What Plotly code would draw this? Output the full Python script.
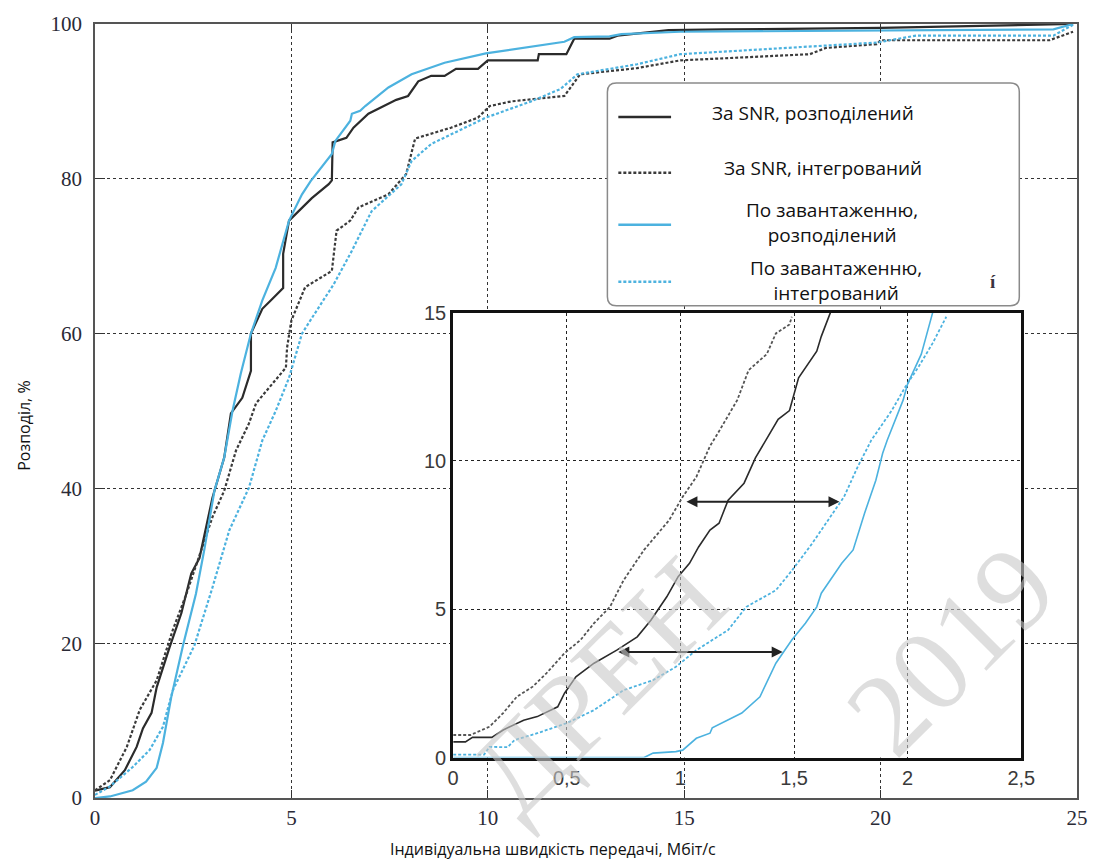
import plotly.graph_objects as go

# ---- main panel: CDF of per-user rate, Mbit/s vs % ----
snr_dist_x = [0, 0.38, 0.76, 1.06, 1.22, 1.44, 1.57, 1.9, 2.2, 2.45, 2.66, 2.99, 3.29, 3.46, 3.75,
              3.97, 3.97, 4.26, 4.48, 4.79, 4.79, 4.94, 5.52, 5.95, 6.03, 6.05, 6.4, 6.58, 6.96, 7.67,
              7.97, 8.23, 8.56, 8.9, 9.19, 9.75, 10.0, 11.27, 11.3, 12.0, 12.2, 13.1, 13.3, 14.6,
              16.0, 20.0, 24.9]
snr_dist_y = [0.95, 1.4, 3.6, 6.6, 9.0, 11.0, 14.3, 19.5, 23.9, 29.0, 31.0, 38.8, 44.0, 49.7, 51.7,
              55.2, 60.0, 63.2, 64.3, 65.9, 70.3, 74.6, 77.5, 79.3, 79.8, 84.7, 85.3, 86.6, 88.4, 90.2,
              90.7, 92.6, 93.3, 93.3, 94.2, 94.2, 95.3, 95.3, 96.1, 96.1, 98.1, 98.1, 98.5, 99.2,
              99.3, 99.5, 100.0]

snr_int_x = [0, 0.38, 0.81, 1.14, 1.57, 1.98, 2.33, 2.7, 2.99, 3.29, 3.59, 3.92, 4.1, 4.43, 4.86,
             4.89, 5.0, 5.35, 6.03, 6.15, 6.5, 6.71, 7.47, 7.92, 8.15, 9.06, 9.75, 10.05, 10.6, 11.95,
             12.35, 13.8, 14.9, 18.2, 18.6, 19.9, 20.0, 24.3, 24.9]
snr_int_y = [1.0, 2.3, 6.6, 11.4, 15.2, 21.7, 26.4, 32.0, 36.3, 39.7, 44.9, 48.4, 51.0, 53.0, 55.6,
             58.2, 61.7, 66.0, 68.1, 73.3, 74.6, 76.3, 78.0, 80.6, 85.2, 86.6, 87.9, 89.4, 90.0, 90.7,
             93.5, 94.3, 95.3, 96.1, 96.9, 97.4, 97.9, 97.9, 99.0]

load_dist_x = [0, 0.38, 0.96, 1.3, 1.57, 1.73, 1.94, 2.24, 2.57, 2.78, 3.04, 3.29, 3.5, 3.71, 3.97,
               4.26, 4.6, 4.94, 5.27, 5.49, 6.03, 6.12, 6.5, 6.54, 6.75, 6.88, 7.47, 8.06, 8.9, 9.95,
               11.95, 12.2, 13.1, 13.4, 14.9, 20.0, 24.4, 24.9]
load_dist_y = [0, 0.2, 1.0, 2.1, 3.9, 7.1, 13.0, 19.7, 26.4, 32.0, 39.7, 44.0, 50.0, 54.8, 60.0,
               64.3, 68.5, 74.6, 78.0, 79.7, 83.2, 84.9, 87.5, 88.4, 88.8, 89.4, 91.8, 93.5, 95.0, 96.2,
               97.7, 98.3, 98.4, 98.7, 99.0, 99.2, 99.3, 100.0]

load_int_x = [0, 0.38, 0.96, 1.39, 1.73, 1.98, 2.53, 2.99, 3.42, 3.92, 4.26, 4.6, 4.94, 5.27, 5.52,
              6.08, 6.54, 7.04, 7.8, 8.06, 8.56, 9.24, 9.95, 11.1, 11.85, 12.28, 13.8, 14.9, 19.9,
              20.9, 24.4, 24.9]
load_int_y = [0.4, 1.5, 4.0, 6.2, 9.2, 13.9, 19.7, 27.2, 34.6, 40.1, 46.2, 50.0, 54.3, 60.0, 62.0,
              66.4, 70.7, 75.8, 79.3, 82.3, 84.5, 86.2, 87.9, 90.0, 91.6, 93.5, 94.8, 96.1, 97.6,
              98.5, 98.5, 99.9]

# ---- inset: lower tail of the same distributions ----
in_snr_dist_x = [0, 0.054, 0.085, 0.17, 0.22, 0.31, 0.37, 0.43, 0.46, 0.49, 0.54, 0.62, 0.72, 0.81,
                 0.87, 0.94, 0.99, 1.04, 1.08, 1.13, 1.17, 1.21, 1.28, 1.33, 1.43, 1.48, 1.52, 1.6,
                 1.62, 1.66]
in_snr_dist_y = [0.53, 0.53, 0.68, 0.68, 0.93, 1.26, 1.38, 1.6, 1.71, 2.17, 2.72, 3.18, 3.62, 4.07,
                 4.63, 5.42, 6.1, 6.55, 7.1, 7.67, 7.9, 8.68, 9.25, 10.1, 11.4, 11.7, 12.8, 13.7,
                 14.2, 15.0]

in_snr_int_x = [0, 0.076, 0.16, 0.22, 0.28, 0.35, 0.41, 0.49, 0.56, 0.62, 0.69, 0.75, 0.81, 0.84,
                0.95, 1.01, 1.07, 1.13, 1.17, 1.25, 1.3, 1.38, 1.42, 1.48, 1.49]
in_snr_int_y = [0.76, 0.76, 1.04, 1.5, 2.05, 2.39, 2.84, 3.52, 3.96, 4.53, 5.08, 5.98, 6.66, 7.0,
                8.0, 8.79, 9.46, 10.5, 11.0, 12.05, 13.06, 13.6, 14.3, 14.6, 14.86]

in_load_dist_x = [0, 0.84, 0.88, 0.98, 1.01, 1.07, 1.13, 1.14, 1.27, 1.35, 1.42, 1.49, 1.55, 1.6,
                  1.62, 1.71, 1.76, 1.81, 1.86, 1.89, 1.91, 1.98, 2.0, 2.06, 2.11]
in_load_dist_y = [0.0, 0.0, 0.15, 0.2, 0.25, 0.65, 0.82, 1.0, 1.5, 2.05, 3.18, 3.96, 4.53, 5.08,
                  5.54, 6.55, 7.0, 8.23, 9.35, 10.26, 10.7, 12.05, 12.6, 13.6, 15.0]

in_load_int_x = [0, 0.136, 0.16, 0.24, 0.27, 0.37, 0.5, 0.62, 0.75, 0.88, 0.98, 1.07, 1.14, 1.21,
                 1.29, 1.36, 1.42, 1.49, 1.58, 1.67, 1.72, 1.78, 1.84, 1.93, 1.99, 2.05, 2.11, 2.17]
in_load_int_y = [0.1, 0.1, 0.36, 0.35, 0.59, 0.82, 1.16, 1.6, 2.27, 2.61, 3.06, 3.62, 3.96, 4.3,
                 5.08, 5.37, 5.64, 6.3, 7.22, 8.23, 8.79, 9.8, 10.7, 11.7, 12.5, 13.2, 13.97, 14.86]

# gap arrows inside the inset: (x_start, x_end, level)
gap_arrows = [(1.02, 1.70, 8.62), (0.72, 1.45, 3.56)]

series_names = ["За SNR, розподілений", "За SNR, інтегрований",
                "По завантаженню,<br>розподілений", "По завантаженню,<br>інтегрований"]

main_x_ticks = [0, 5, 10, 15, 20, 25]
main_y_ticks = [0, 20, 40, 60, 80, 100]
inset_x_ticks = [0, 0.5, 1, 1.5, 2, 2.5]
inset_x_text = ["0", "0,5", "1", "1,5", "2", "2,5"]
inset_y_ticks = [0, 5, 10, 15]

# diagonal background stamp: (text, centre x px, centre y px)
stamp_lines = [("ДРЕН", 600, 686), ("2019", 955, 650)]

DARK = "#2b2b2b"
BLUE = "#4cb2df"
DOT = "3px,2px"

styles = [
    dict(color=DARK, width=2.2, dash="solid"),
    dict(color="#3a3a3a", width=2.2, dash=DOT),
    dict(color=BLUE, width=2.2, dash="solid"),
    dict(color=BLUE, width=2.2, dash=DOT),
]
inset_styles = [
    dict(color=DARK, width=1.6, dash="solid"),
    dict(color="#555555", width=1.8, dash=DOT),
    dict(color=BLUE, width=1.6, dash="solid"),
    dict(color=BLUE, width=1.8, dash=DOT),
]

fig = go.Figure()

main_series = [(snr_dist_x, snr_dist_y), (snr_int_x, snr_int_y),
               (load_dist_x, load_dist_y), (load_int_x, load_int_y)]
for (xs, ys), st, nm in zip(main_series, styles, series_names):
    fig.add_trace(go.Scatter(x=xs, y=ys, mode="lines", line=st, name=nm,
                             showlegend=False, xaxis="x", yaxis="y"))

inset_series = [(in_snr_dist_x, in_snr_dist_y), (in_snr_int_x, in_snr_int_y),
                (in_load_dist_x, in_load_dist_y), (in_load_int_x, in_load_int_y)]
for (xs, ys), st, nm in zip(inset_series, inset_styles, series_names):
    fig.add_trace(go.Scatter(x=xs, y=ys, mode="lines", line=st, name=nm,
                             showlegend=False, xaxis="x2", yaxis="y2"))

# pixel geometry of the page
W, H = 1103, 863
ML, MR, MT, MB = 95, 21, 23, 65
PW, PH = W - ML - MR, H - MT - MB


def px(x):
    return (x - ML) / PW


def py(y):
    return (H - MB - y) / PH


serif = "Liberation Serif"
sans = "Open Sans"

fig.update_layout(
    width=W, height=H,
    margin=dict(l=ML, r=MR, t=MT, b=MB),
    paper_bgcolor="white", plot_bgcolor="white",
    xaxis=dict(domain=[0, 1], range=[0, 25], tickvals=main_x_ticks,
               showgrid=True, gridcolor="#333", griddash="dot", gridwidth=1,
               showline=True, linecolor="#555", linewidth=1.5, mirror="ticks",
               ticks="inside", ticklen=8, tickcolor="#333", tickwidth=1.2,
               tickfont=dict(family=serif, size=21, color="#2a2a36"),
               zeroline=False, fixedrange=True),
    yaxis=dict(domain=[0, 1], range=[0, 100], tickvals=main_y_ticks,
               showgrid=True, gridcolor="#333", griddash="dot", gridwidth=1,
               showline=True, linecolor="#555", linewidth=1.5, mirror="ticks",
               ticks="inside", ticklen=10, tickcolor="#333", tickwidth=1.2,
               tickfont=dict(family=serif, size=21, color="#2a2a36"),
               ticklabelstandoff=7, zeroline=False, fixedrange=True),
    xaxis2=dict(domain=[px(455), px(1026)], anchor="y2", range=[0, 2.5],
                tickvals=inset_x_ticks, ticktext=inset_x_text,
                showgrid=True, gridcolor="#222", griddash="dot", gridwidth=1.2,
                showline=True, linecolor="#111", linewidth=3, mirror=True,
                ticks="", tickfont=dict(family="Liberation Sans", size=20, color="#3a3a3a"),
                ticklabelstandoff=0, zeroline=False, fixedrange=True),
    yaxis2=dict(domain=[py(757.5), py(312)], anchor="x2", range=[0, 15],
                tickvals=inset_y_ticks,
                showgrid=True, gridcolor="#222", griddash="dot", gridwidth=1.2,
                showline=True, linecolor="#111", linewidth=3, mirror=True,
                ticks="", tickfont=dict(family="Liberation Sans", size=20, color="#3a3a3a"),
                ticklabelstandoff=0, zeroline=False, fixedrange=True),
    showlegend=False,
)

# axis titles
fig.add_annotation(x=px(555), y=py(849), xref="paper", yref="paper", showarrow=False,
                   xanchor="center", yanchor="middle",
                   text="Індивідуальна швидкість передачі, Мбіт/с",
                   font=dict(family=sans, size=16, color="#111"))
fig.add_annotation(x=px(24), y=py(425), xref="paper", yref="paper", showarrow=False,
                   xanchor="center", yanchor="middle",
                   text="Розподіл, %", textangle=-90,
                   font=dict(family=sans, size=16, color="#111"))

# legend box with rounded corners
x0, x1, y0, y1 = px(610), px(1024), py(305), py(82)
rx, ry = 9 / PW, 9 / PH
path = (f"M {x0+rx},{y1} L {x1-rx},{y1} Q {x1},{y1} {x1},{y1-ry} "
        f"L {x1},{y0+ry} Q {x1},{y0} {x1-rx},{y0} L {x0+rx},{y0} "
        f"Q {x0},{y0} {x0},{y0+ry} L {x0},{y1-ry} Q {x0},{y1} {x0+rx},{y1} Z")
fig.add_shape(type="path", path=path, xref="paper", yref="paper",
              line=dict(color="#8a8a8a", width=1.5), fillcolor="white", layer="above")

legend_rows_y = [116, 172, 224, 281]
legend_text_xy = [(817, 112), (827, 167), (836, 222), (840, 280)]
for ly, (tx, ty), st, nm in zip(legend_rows_y, legend_text_xy, styles, series_names):
    fig.add_shape(type="line", xref="paper", yref="paper",
                  x0=px(621), x1=px(674), y0=py(ly), y1=py(ly),
                  line=dict(color=st["color"], width=2.5, dash=st["dash"]), layer="above")
    fig.add_annotation(x=px(tx), y=py(ty), xref="paper", yref="paper", showarrow=False,
                       xanchor="center", yanchor="middle",
                       text=nm, align="center",
                       font=dict(family=sans, size=19, color="#111"))

# small mark in the legend's lower right corner
fig.add_annotation(x=px(998), y=py(281), xref="paper", yref="paper", showarrow=False,
                   xanchor="center", yanchor="middle", text="<b>í</b>",
                   font=dict(family=serif, size=19, color="#3a3340"))

# double-headed arrows in the inset
for xa, xb, lvl in gap_arrows:
    fig.add_annotation(x=xb, y=lvl, ax=xa, ay=lvl, xref="x2", yref="y2",
                       axref="x2", ayref="y2", text="", showarrow=True,
                       arrowhead=2, arrowside="end+start", arrowsize=1.1,
                       arrowwidth=2, arrowcolor="#222", standoff=0, startstandoff=0)

# translucent diagonal stamp over the figure
for txt, cx, cy in stamp_lines:
    fig.add_annotation(x=px(cx), y=py(cy), xref="paper", yref="paper", showarrow=False,
                       xanchor="center", yanchor="middle", text=txt,
                       textangle=-45,
                       font=dict(family=serif, size=118, color="rgba(200,200,200,0.6)"))

fig.write_html("out.html")
